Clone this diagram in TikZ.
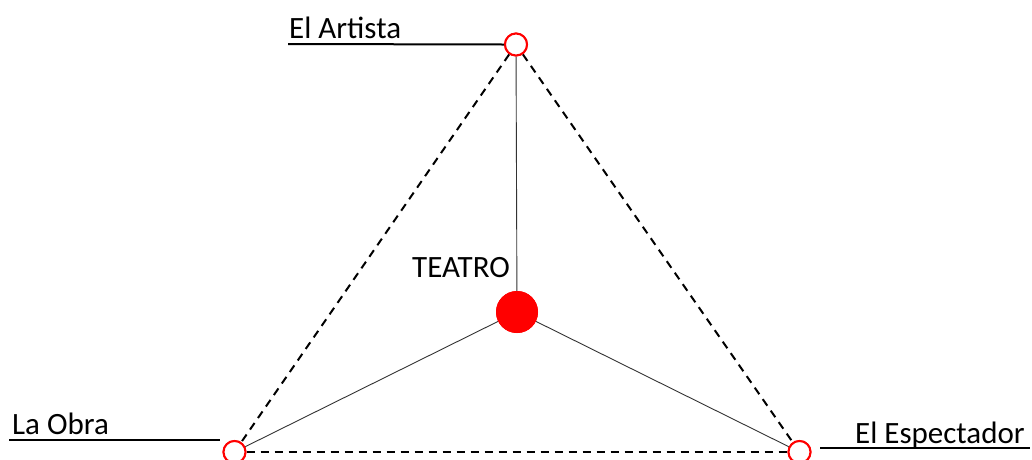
\documentclass[tikz,border=0pt]{standalone}
\usepackage{fontspec}
\setmainfont{Carlito}
\begin{document}
\begin{tikzpicture}[x=1pt,y=-1pt,
  vtx/.style={circle,draw=red,line width=2pt,fill=white,minimum size=22pt,inner sep=0pt},
  hub/.style={circle,fill=red,minimum size=42pt,inner sep=0pt},
  lbl/.style={font=\fontsize{31}{35}\selectfont,inner sep=0pt},
  dashedge/.style={line width=2pt,dash pattern=on 8pt off 6pt},
  spoke/.style={line width=0.9pt,black!80},
  uline/.style={line width=2pt}]
\useasboundingbox (0,0) rectangle (1032,459);
\node[vtx] (A) at (516,44.5) {};
\node[vtx] (O) at (234.5,452) {};
\node[vtx] (E) at (799.5,452) {};
\node[hub] (T) at (517,312) {};
\draw[dashedge] (A) -- (O);
\draw[dashedge] (A) -- (E);
\draw[dashedge] (O) -- (E);
\draw[spoke] (T) -- (A);
\draw[spoke] (T) -- (O);
\draw[spoke] (T) -- (E);
\node[hub] at (T) {};
\node[vtx] at (A) {};
\node[vtx] at (O) {};
\node[vtx] at (E) {};
\node[lbl,anchor=base west] (la) at (289,38) {El Artista};
\node[lbl,anchor=base west] (lo) at (12,434) {La Obra};
\node[lbl,anchor=base east] (le) at (1025,443) {El Espectador};
\node[lbl,anchor=base east] (lt) at (510,277) {TEATRO};
\coordinate (ua) at (288,44);
\coordinate (uo1) at (9,440);
\coordinate (uo2) at (220,440);
\coordinate (ue1) at (820,448);
\coordinate (ue2) at (1030,448);
\draw[uline] (ua) -- (A.west);
\draw[uline] (uo1) -- (uo2);
\draw[uline] (ue1) -- (ue2);
\end{tikzpicture}
\end{document}
